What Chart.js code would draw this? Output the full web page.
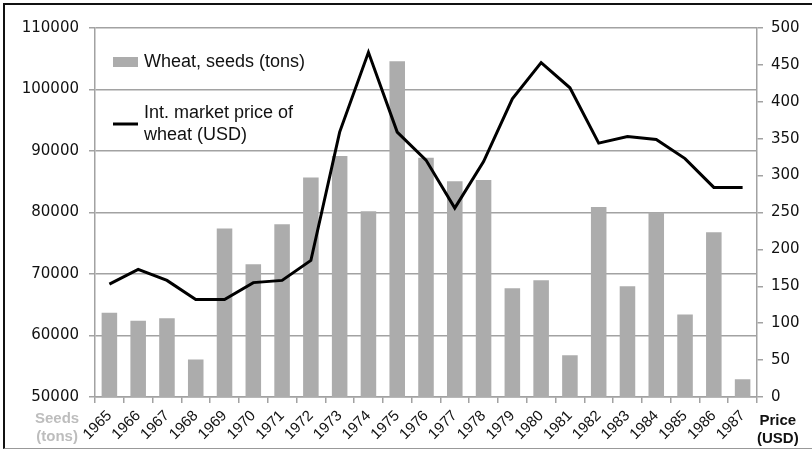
<!DOCTYPE html>
<html>
<head>
<meta charset="utf-8">
<script src="https://cdn.jsdelivr.net/npm/chart.js@4.4.1/dist/chart.umd.min.js"></script>
<style>
  html, body { margin: 0; padding: 0; background: #fff; }
  #wrap { position: relative; width: 812px; height: 455px; overflow: hidden; }
  #frame { position: absolute; left: 3px; top: 3px; width: 820px; height: 443px;
    border-top: 2px solid #111; border-left: 2px solid #111; border-bottom: 1px solid #999;
    pointer-events: none; }
  .axtitle { position: absolute; font-family: "Liberation Sans", Arial, sans-serif;
    font-weight: bold; font-size: 15px; line-height: 18px; text-align: center; }
  #seeds { left: 35px; top: 409px; color: #bdbdbd; }
  #price { left: 757px; top: 411px; color: #111; }
</style>
</head>
<body>
<div id="wrap">
  <canvas id="myChart" width="812" height="455"></canvas>
  <div id="frame"></div>
  <div class="axtitle" id="seeds">Seeds<br>(tons)</div>
  <div class="axtitle" id="price">Price<br>(USD)</div>
</div>
<script>
var years = ["1965", "1966", "1967", "1968", "1969", "1970", "1971", "1972", "1973", "1974", "1975", "1976",
  "1977", "1978", "1979", "1980", "1981", "1982", "1983", "1984", "1985", "1986", "1987"];
var seedTons = [63700, 62400, 62800, 56100, 77400, 71600, 78100, 85700, 89200, 80200, 104600, 88900,
  85100, 85300, 67700, 69000, 56800, 80900, 68000, 80000, 63400, 76800, 52900];
var priceUsd = [153, 173, 158, 132, 132, 155, 158, 185, 359, 467, 359, 321,
  256, 319, 404, 453, 419, 344, 353, 349, 323, 284, 284];
var seedTicks = [50000, 60000, 70000, 80000, 90000, 100000, 110000];
var priceTicks = [0, 50, 100, 150, 200, 250, 300, 350, 400, 450, 500];

var barGrey = "#acacac";
var axisGrey = "#a2a2a2";

// legend drawn inside the plot, top left (bars first, then the line)
var insideLegend = {
  id: "insideLegend",
  afterDraw: function (chart) {
    var ctx = chart.ctx;
    var x = chart.chartArea.left + 18;
    var y = chart.chartArea.top + 34;
    var items = chart.data.datasets.slice().sort(function (a, b) {
      return (a.type === "bar" ? 0 : 1) - (b.type === "bar" ? 0 : 1);
    });
    ctx.save();
    ctx.font = "18px 'Liberation Sans', Arial, sans-serif";
    ctx.textBaseline = "middle";
    items.forEach(function (ds) {
      // wrap the label
      var words = ds.label.split(" ");
      var lines = [];
      var cur = "";
      words.forEach(function (w) {
        var t = cur ? cur + " " + w : w;
        if (ctx.measureText(t).width > 175 && cur) {
          lines.push(cur);
          cur = w;
        } else {
          cur = t;
        }
      });
      lines.push(cur);
      var mid = y + (lines.length - 1) * 11;
      if (ds.type === "bar") {
        ctx.fillStyle = barGrey;
        ctx.fillRect(x, mid - 5, 25, 10);
      } else {
        ctx.strokeStyle = "#000";
        ctx.lineWidth = 3;
        ctx.beginPath();
        ctx.moveTo(x, mid);
        ctx.lineTo(x + 25, mid);
        ctx.stroke();
      }
      ctx.fillStyle = "#111";
      lines.forEach(function (l, j) {
        ctx.fillText(l, x + 31, y + j * 22);
      });
      y += 51;
    });
    ctx.restore();
  }
};

function plainNumber(v) { return String(v); }

var ctx = document.getElementById("myChart");
var myChart = new Chart(ctx, {
  data: {
    labels: years,
    datasets: [{
      type: "bar",
      label: "Wheat, seeds (tons)",
      data: seedTons,
      yAxisID: "y",
      backgroundColor: barGrey,
      categoryPercentage: 0.54,
      barPercentage: 1,
      order: 1
    },
    {
      type: "line",
      label: "Int. market price of wheat (USD)",
      data: priceUsd,
      yAxisID: "y1",
      borderColor: "#000",
      borderWidth: 3,
      pointRadius: 0,
      tension: 0,
      order: 0
    }]
  },
  options: {
    responsive: false,
    animation: false,
    layout: { padding: { left: 0, right: 0, top: 28, bottom: 0 } },
    plugins: {
      legend: { display: false },
      tooltip: { enabled: false }
    },
    scales: {
      x: {
        grid: { offset: true, drawOnChartArea: false, drawTicks: true, tickLength: 6, color: axisGrey, lineWidth: 1.5 },
        border: { color: axisGrey, width: 1.5 },
        ticks: {
          color: "#111",
          font: { family: "'Liberation Sans', Arial, sans-serif", size: 15 },
          maxRotation: 45,
          minRotation: 45,
          padding: 4,
          autoSkip: false
        },
        afterFit: function (s) { s.height = 58; }
      },
      y: {
        position: "left",
        min: 50000,
        max: 110000,
        afterBuildTicks: function (s) { s.ticks = seedTicks.map(function (v) { return { value: v }; }); },
        grid: { color: axisGrey, lineWidth: 1.5, tickLength: 6 },
        border: { color: axisGrey, width: 1.5 },
        ticks: {
          color: "#111",
          font: { family: "'DejaVu Sans', Verdana, sans-serif", size: 15 },
          padding: 10,
          callback: plainNumber
        },
        afterFit: function (s) { s.width = 95; }
      },
      y1: {
        position: "right",
        min: 0,
        max: 500,
        afterBuildTicks: function (s) { s.ticks = priceTicks.map(function (v) { return { value: v }; }); },
        grid: { drawOnChartArea: false, color: axisGrey, lineWidth: 1.5, tickLength: 6 },
        border: { color: axisGrey, width: 1.5 },
        ticks: {
          color: "#111",
          font: { family: "'DejaVu Sans', Verdana, sans-serif", size: 15 },
          padding: 8,
          callback: plainNumber
        },
        afterFit: function (s) { s.width = 55; }
      }
    }
  },
  plugins: [insideLegend]
});
</script>
</body>
</html>
